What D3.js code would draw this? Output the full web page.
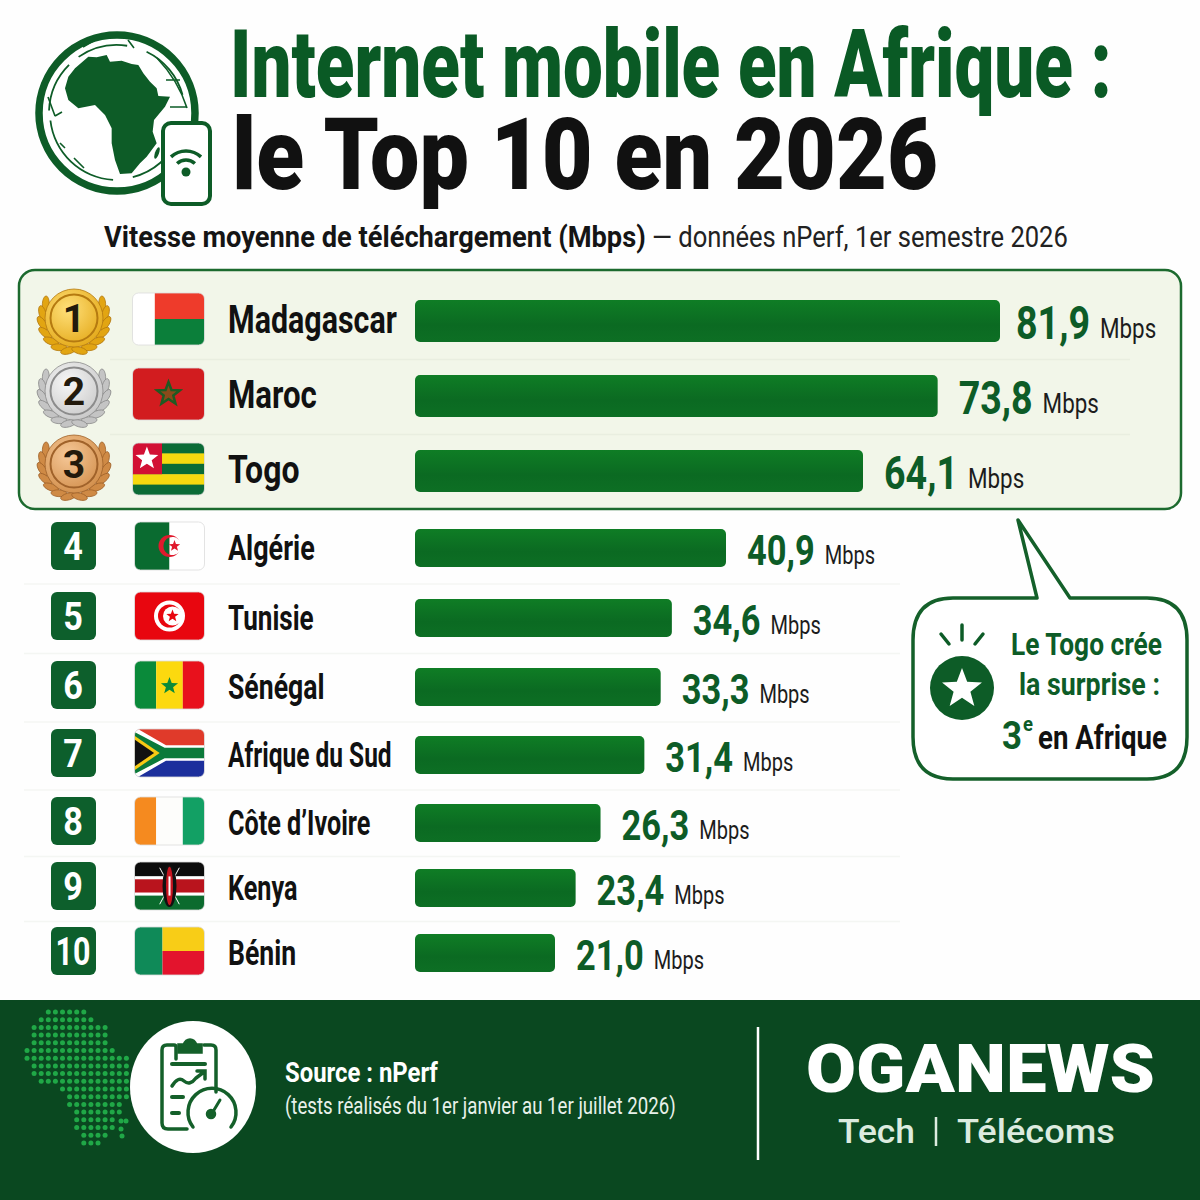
<!DOCTYPE html>
<html>
<head>
<meta charset="utf-8">
<title>Internet mobile en Afrique</title>
<script src="https://cdn.jsdelivr.net/npm/d3@7"></script>
<style>
  html, body { margin: 0; padding: 0; background: #fefefe; }
  svg { display: block; }
  text { font-family: Roboto, "Noto Sans", sans-serif; }
</style>
</head>
<body>
<div id="chart"></div>
<script>
const countries = ["Madagascar", "Maroc", "Togo", "Algérie", "Tunisie", "Sénégal", "Afrique du Sud", "Côte d’Ivoire", "Kenya", "Bénin"];
const speeds = [81.9, 73.8, 64.1, 40.9, 34.6, 33.3, 31.4, 26.3, 23.4, 21.0];
const flagCodes = ["mg", "ma", "tg", "dz", "tn", "sn", "za", "ci", "ke", "bj"];
const ranks = [1, 2, 3, 4, 5, 6, 7, 8, 9, 10];
const unit = "Mbps";

const GREEN = "#0d5c27";
const svg = d3.select("#chart").append("svg").attr("width", 1200).attr("height", 1200);
const defs = svg.append("defs");

svg.append("rect").attr("width", 1200).attr("height", 1200).attr("fill", "#fefefe");

// the bars in the picture are not strictly proportional to their labels,
// so the scale has a few knots
const x = d3.scaleLinear().domain([0, 21, 40.9, 64.1, 81.9]).range([415, 555, 726, 863, 1000]);
// rows get tighter going down
const y = d3.scaleLinear().domain([1, 3, 4, 5, 6, 7, 8, 9, 10]).range([321, 471, 548, 618, 687, 755, 823, 888, 953]);

const barGrad = defs.append("linearGradient").attr("id", "barGrad").attr("x1", 0).attr("x2", 0).attr("y1", 0).attr("y2", 1);
barGrad.append("stop").attr("offset", 0).attr("stop-color", "#0f7d25");
barGrad.append("stop").attr("offset", 0.6).attr("stop-color", "#0b6a22");
barGrad.append("stop").attr("offset", 1).attr("stop-color", "#0d6f24");

// no condensed font is available: scale each text to the width it has in the picture
function fit(sel) {
  sel.attr("transform", function(d) {
    const k = d.width ? d.width / this.getComputedTextLength() : 1;
    return `translate(${d.x},${d.y}) scale(${k},1)`;
  });
}

function starPoints(cx, cy, r) {
  const pts = [];
  for (let i = 0; i < 10; i++) {
    const a = -Math.PI / 2 + i * Math.PI / 5;
    const rr = i % 2 ? r * 0.42 : r;
    pts.push([cx + rr * Math.cos(a), cy + rr * Math.sin(a)].join(","));
  }
  return pts.join(" ");
}

/* ---------- header ---------- */
const africa = [[265,170],[290,172],[320,165],[330,185],[365,182],[395,192],[415,195],[430,220],[450,245],[470,265],[475,288],[510,290],[495,320],[462,360],[458,395],[470,430],[440,470],[420,490],[395,520],[360,522],[345,480],[335,430],[335,385],[315,345],[285,315],[235,325],[205,300],[195,265],[205,230],[225,205]];

const logo = svg.append("g");
logo.append("circle").attr("cx", 117).attr("cy", 113).attr("r", 78).attr("fill", "#fff").attr("stroke", GREEN).attr("stroke-width", 7.5);
const arc = d3.arc();
[[-0.6, 0.15, 68], [0.45, 1.3, 68], [1.95, 2.9, 66], [3.2, 4.6, 67], [4.75, 5.5, 68]].forEach(a => {
  logo.append("path").attr("transform", "translate(117,113)")
    .attr("d", arc({ innerRadius: a[2] - 0.9, outerRadius: a[2] + 0.9, startAngle: a[0], endAngle: a[1] }))
    .attr("fill", GREEN);
});
logo.append("path")
  .attr("d", "M157,58 Q178,80 187,108 M166,80 H180 M170,107 H186 M48,97 L55,116 M55,116 L62,112 M60,143 L65,148 M74,158 L84,168 M83,47 L95,40 M128,40 L134,48")
  .attr("fill", "none").attr("stroke", GREEN).attr("stroke-width", 1.6);
logo.append("path").attr("d", d3.line().x(d => d[0] / 3).y(d => d[1] / 3).curve(d3.curveLinearClosed)(africa)).attr("fill", GREEN);
logo.append("ellipse").attr("cx", 157).attr("cy", 153).attr("rx", 2).attr("ry", 6).attr("transform", "rotate(20 157 153)").attr("fill", GREEN);
logo.append("rect").attr("x", 163).attr("y", 123).attr("width", 47).attr("height", 81).attr("rx", 8).attr("fill", "#fff").attr("stroke", GREEN).attr("stroke-width", 4);
[[22, 3.5], [13, 3.5]].forEach(a => {
  logo.append("path").attr("transform", "translate(186,173)")
    .attr("d", arc({ innerRadius: a[0] - a[1] / 2, outerRadius: a[0] + a[1] / 2, startAngle: -0.75, endAngle: 0.75 }))
    .attr("fill", GREEN);
});
logo.append("circle").attr("cx", 186).attr("cy", 172).attr("r", 4.5).attr("fill", GREEN);

const titleLines = [
  { text: "Internet mobile en Afrique :", x: 230, y: 97, size: 94, width: 882, color: "#0a5a25" },
  { text: "le Top 10 en 2026", x: 232, y: 189, size: 100, width: 706, color: "#111" }
];
svg.selectAll(".title").data(titleLines).join("text").attr("class", "title")
  .attr("font-size", d => d.size).attr("font-weight", 900).attr("fill", d => d.color)
  .text(d => d.text).call(fit);

const subs = [
  { text: "Vitesse moyenne de téléchargement (Mbps)", x: 104, y: 247, width: 542, weight: 700, color: "#151515" },
  { text: "— données nPerf, 1er semestre 2026", x: 652, y: 247, width: 416, weight: 400, color: "#222" }
];
svg.selectAll(".sub").data(subs).join("text").attr("class", "sub")
  .attr("font-size", 29).attr("font-weight", d => d.weight).attr("fill", d => d.color)
  .text(d => d.text).call(fit);

/* ---------- top 3 box ---------- */
svg.append("rect").attr("x", 19).attr("y", 270).attr("width", 1162).attr("height", 239).attr("rx", 16)
  .attr("fill", "#f2f6e9").attr("stroke", "#1c6a2e").attr("stroke-width", 2.5);

const rows = ranks.map((r, i) => ({ rank: r, country: countries[i], speed: speeds[i], flag: flagCodes[i] }));

// faint separators under each row except the last of each group
svg.selectAll(".sep").data(rows.filter(d => d.rank !== 3 && d.rank !== 10)).join("line").attr("class", "sep")
  .attr("x1", d => d.rank < 3 ? 110 : 24).attr("x2", d => d.rank < 3 ? 1130 : 900)
  .attr("y1", d => (y(d.rank) + y(d.rank + 1)) / 2 + 1).attr("y2", d => (y(d.rank) + y(d.rank + 1)) / 2 + 1)
  .attr("stroke", d => d.rank < 3 ? "#e9eee0" : "#f4f6f3").attr("stroke-width", 1.5);

/* ---------- bars ---------- */
svg.selectAll(".bar").data(rows).join("rect").attr("class", "bar")
  .attr("x", x(0)).attr("width", d => x(d.speed) - x(0))
  .attr("y", d => y(d.rank) - (d.rank <= 3 ? 21 : 19)).attr("height", d => d.rank <= 3 ? 42 : 38)
  .attr("rx", 5).attr("fill", "url(#barGrad)");

// value labels
const fmt = v => d3.format(".1f")(v).replace(".", ",");
const valueK = d => d.rank <= 3 ? 0.8 : 0.82;
const valueX = d => x(d.speed) + (d.rank === 1 ? 16 : 21);

const values = svg.selectAll(".value").data(rows).join("text").attr("class", "value")
  .attr("font-size", d => d.rank <= 3 ? 47 : 42).attr("font-weight", 700).attr("fill", GREEN)
  .text(d => fmt(d.speed))
  .attr("transform", d => `translate(${valueX(d)},${y(d.rank) + (d.rank <= 3 ? 18 : 17)}) scale(${valueK(d)},1)`);

const unitX = [];
values.each(function(d) { unitX[d.rank] = valueX(d) + this.getComputedTextLength() * valueK(d) + 10; });

svg.selectAll(".unit").data(rows).join("text").attr("class", "unit")
  .attr("font-size", d => d.rank <= 3 ? 28 : 26).attr("font-weight", 400).attr("fill", "#1c1c1c")
  .text(unit)
  .attr("transform", d => `translate(${unitX[d.rank]},${y(d.rank) + (d.rank <= 3 ? 17 : 16)}) scale(${d.rank <= 3 ? 0.8 : 0.77},1)`);

/* ---------- country names ---------- */
const nameSqueeze = [0.78, 0.80, 0.82, 0.77, 0.745, 0.76, 0.70, 0.72, 0.72, 0.76];
svg.selectAll(".name").data(rows).join("text").attr("class", "name")
  .attr("font-size", d => d.rank <= 3 ? 39 : 35).attr("font-weight", 700).attr("fill", "#111")
  .text(d => d.country)
  .attr("transform", (d, i) => `translate(228,${y(d.rank) + 12}) scale(${nameSqueeze[i]},1)`);

/* ---------- rank badges and medals ---------- */
const medalColors = { 1: ["#ffe07a", "#e2a512", "#b57a10"], 2: ["#f7f7f7", "#c4c4c4", "#8c8c8c"], 3: ["#f6c898", "#cf8a45", "#a0622a"] };
Object.keys(medalColors).forEach(k => {
  const g = defs.append("radialGradient").attr("id", "medal" + k).attr("cx", "40%").attr("cy", "35%").attr("r", "75%");
  g.append("stop").attr("offset", 0).attr("stop-color", medalColors[k][0]);
  g.append("stop").attr("offset", 1).attr("stop-color", medalColors[k][1]);
});

const medalCy = d3.scaleLinear().domain([1, 3]).range([318, 464]);
rows.filter(d => d.rank <= 3).forEach(d => {
  const g = svg.append("g").attr("transform", `translate(74,${medalCy(d.rank)})`);
  const c = medalColors[d.rank];
  [-1, 1].forEach(side => {
    for (let i = 0; i < 7; i++) {
      const deg = -28 + i * 18;
      const a = deg * Math.PI / 180;
      const lx = side * 32 * Math.cos(a), ly = 32 * Math.sin(a) + 1;
      g.append("ellipse").attr("cx", lx).attr("cy", ly).attr("rx", 8).attr("ry", 3.4)
        .attr("transform", `rotate(${side * (deg + 115)} ${lx} ${ly})`)
        .attr("fill", c[1]).attr("stroke", c[2]).attr("stroke-width", 0.8);
    }
  });
  g.append("circle").attr("r", 29).attr("fill", `url(#medal${d.rank})`).attr("stroke", c[2]).attr("stroke-width", 0.8);
  g.append("circle").attr("r", 23.5).attr("fill", "none").attr("stroke", c[2]).attr("stroke-width", 2);
  g.append("text").attr("text-anchor", "middle").attr("y", 14).attr("font-size", 39).attr("font-weight", 700).attr("fill", "#231a0c").text(d.rank);
});

const others = rows.filter(d => d.rank > 3);
svg.selectAll(".badge").data(others).join("rect").attr("class", "badge")
  .attr("x", 51).attr("width", 45).attr("y", d => y(d.rank) - 26).attr("height", 48).attr("rx", 6).attr("fill", "#0d5f2c");
svg.selectAll(".badgeText").data(others).join("text").attr("class", "badgeText")
  .attr("font-size", 38).attr("font-weight", 700).attr("fill", "#fff").attr("text-anchor", "middle")
  .text(d => d.rank)
  .attr("transform", d => `translate(73,${y(d.rank) + 12}) scale(${d.rank === 10 ? 0.8 : 0.9},1)`);

/* ---------- flags ---------- */
function band(g, x0, y0, w, h, c) {
  g.append("rect").attr("x", x0).attr("y", y0).attr("width", w).attr("height", h).attr("fill", c);
}
const flagDraw = {
  mg(g, w, h) { band(g, 0, 0, w * 0.31, h, "#fff"); band(g, w * 0.31, 0, w * 0.69, h / 2, "#ee3b2b"); band(g, w * 0.31, h / 2, w * 0.69, h / 2, "#0b7f3a"); },
  ma(g, w, h) {
    band(g, 0, 0, w, h, "#d21c1f");
    g.append("polygon").attr("points", starPoints(w / 2, h / 2, 12)).attr("fill", "#8a4a1a").attr("stroke", "#1f5a22").attr("stroke-width", 2.5);
  },
  tg(g, w, h) {
    const s = h / 5;
    ["#0b6b36", "#f6d90f", "#0b6b36", "#f6d90f", "#0b6b36"].forEach((c, i) => band(g, 0, i * s, w, s + 0.5, c));
    band(g, 0, 0, w * 0.41, s * 3, "#d21034");
    g.append("polygon").attr("points", starPoints(w * 0.2, s * 1.5, 12)).attr("fill", "#fff");
  },
  dz(g, w, h) {
    const cx = w / 2, cy = h / 2;
    band(g, 0, 0, cx, h, "#0a6b30"); band(g, cx, 0, cx, h, "#fff");
    g.append("circle").attr("cx", cx).attr("cy", cy).attr("r", 11).attr("fill", "#e01a2d");
    // inner circle of the crescent, straddling the two colours
    g.append("path").attr("d", `M${cx},${cy - 8.5} A9,9 0 0 0 ${cx},${cy + 8.5} Z`).attr("fill", "#0a6b30");
    g.append("path").attr("d", `M${cx},${cy - 8.5} A9,9 0 1 1 ${cx},${cy + 8.5} Z`).attr("fill", "#fff");
    g.append("polygon").attr("points", starPoints(cx + 5, cy, 6)).attr("fill", "#e01a2d");
  },
  tn(g, w, h) {
    band(g, 0, 0, w, h, "#e8060f");
    g.append("circle").attr("cx", w / 2).attr("cy", h / 2).attr("r", 15.5).attr("fill", "#fff");
    g.append("circle").attr("cx", w / 2).attr("cy", h / 2).attr("r", 11.5).attr("fill", "#e8060f");
    g.append("circle").attr("cx", w / 2 + 3).attr("cy", h / 2).attr("r", 9.5).attr("fill", "#fff");
    g.append("polygon").attr("points", starPoints(w / 2 + 3, h / 2, 6.5)).attr("fill", "#e8060f");
  },
  sn(g, w, h) {
    band(g, 0, 0, w * 0.31, h, "#0a8a3a"); band(g, w * 0.31, 0, w * 0.38, h, "#fcd90f"); band(g, w * 0.69, 0, w * 0.31, h, "#e8111c");
    g.append("polygon").attr("points", starPoints(w / 2, h / 2 + 1, 9)).attr("fill", "#0a8a3a");
  },
  za(g, w, h) {
    band(g, 0, 0, w, h / 2, "#e03a2a"); band(g, 0, h / 2, w, h / 2, "#1c2f9c");
    g.append("path").attr("d", `M0,0 L${w * 0.47},${h / 2} L0,${h} Z`).attr("fill", "#fff");
    g.append("path").attr("d", `M0,${-2} L${w * 0.45},${h * 0.34} H${w} V${h * 0.66} H${w * 0.45} L0,${h + 2} Z`).attr("fill", "#fff");
    g.append("path").attr("d", `M0,${3} L${w * 0.43},${h * 0.39} H${w} V${h * 0.61} H${w * 0.43} L0,${h - 3} Z`).attr("fill", "#0b7a3a");
    g.append("path").attr("d", `M0,${h * 0.14} L${w * 0.36},${h / 2} L0,${h * 0.86} Z`).attr("fill", "#f7c914");
    g.append("path").attr("d", `M0,${h * 0.22} L${w * 0.28},${h / 2} L0,${h * 0.78} Z`).attr("fill", "#111");
  },
  ci(g, w, h) { band(g, 0, 0, w * 0.31, h, "#f58a1f"); band(g, w * 0.31, 0, w * 0.38, h, "#fdfdfb"); band(g, w * 0.69, 0, w * 0.31, h, "#12a064"); },
  ke(g, w, h) {
    band(g, 0, 0, w, h * 0.3, "#0c0c0c"); band(g, 0, h * 0.3, w, h * 0.06, "#fff");
    band(g, 0, h * 0.36, w, h * 0.28, "#b9141d"); band(g, 0, h * 0.64, w, h * 0.06, "#fff"); band(g, 0, h * 0.7, w, h * 0.3, "#0b6b2e");
    g.append("path").attr("d", `M${w * 0.36},${h * 0.12} L${w * 0.64},${h * 0.88} M${w * 0.64},${h * 0.12} L${w * 0.36},${h * 0.88}`).attr("stroke", "#fff").attr("stroke-width", 1);
    g.append("ellipse").attr("cx", w / 2).attr("cy", h / 2).attr("rx", 7).attr("ry", h * 0.44).attr("fill", "#111");
    g.append("ellipse").attr("cx", w / 2).attr("cy", h / 2).attr("rx", 3.5).attr("ry", h * 0.4).attr("fill", "#c8141f");
    g.append("rect").attr("x", w / 2 - 1).attr("y", h * 0.3).attr("width", 2).attr("height", h * 0.4).attr("fill", "#fff");
  },
  bj(g, w, h) { band(g, 0, 0, w * 0.4, h, "#0f8a58"); band(g, w * 0.4, 0, w * 0.6, h / 2, "#f8cd17"); band(g, w * 0.4, h / 2, w * 0.6, h / 2, "#e3142d"); }
};

const flagW = d => d.rank <= 3 ? 72 : 70;
const flagH = d => d.rank <= 3 ? 52 : 48;
const flags = svg.selectAll(".flag").data(rows).join("g").attr("class", "flag")
  .attr("transform", d => `translate(${d.rank <= 3 ? 132.5 : 134.5},${y(d.rank) - 2 - flagH(d) / 2})`);
flags.each(function(d) {
  const g = d3.select(this);
  const id = "clip-" + d.flag;
  defs.append("clipPath").attr("id", id).append("rect").attr("width", flagW(d)).attr("height", flagH(d)).attr("rx", 6);
  const inner = g.append("g").attr("clip-path", `url(#${id})`);
  flagDraw[d.flag](inner, flagW(d), flagH(d));
  g.append("rect").attr("width", flagW(d)).attr("height", flagH(d)).attr("rx", 6).attr("fill", "none").attr("stroke", "#dcdcdc").attr("stroke-width", 0.8);
});

/* ---------- callout ---------- */
const callout = svg.append("g");
callout.append("path")
  .attr("d", "M1037,598 H953 Q913,598 913,640 V737 Q913,779 953,779 H1147 Q1187,779 1187,737 V640 Q1187,598 1147,598 H1070 L1018,520 Z")
  .attr("fill", "#fff").attr("stroke", "#14602a").attr("stroke-width", 3.5).attr("stroke-linejoin", "round");
callout.append("circle").attr("cx", 962).attr("cy", 688).attr("r", 32).attr("fill", GREEN);
callout.append("polygon").attr("points", starPoints(962, 689, 21)).attr("fill", "#fff");
[[941, 634, 949, 644], [962, 625, 962, 640], [983, 634, 975, 644]].forEach(l => {
  callout.append("line").attr("x1", l[0]).attr("y1", l[1]).attr("x2", l[2]).attr("y2", l[3])
    .attr("stroke", GREEN).attr("stroke-width", 3.5).attr("stroke-linecap", "round");
});
const calloutText = [
  { text: "Le Togo crée", x: 1011, y: 655, width: 151, size: 32, color: GREEN },
  { text: "la surprise :", x: 1019, y: 695, width: 141, size: 32, color: GREEN },
  { text: "3", x: 1002, y: 749, width: 20, size: 38, color: GREEN },
  { text: "e", x: 1023, y: 731, width: 10, size: 20, color: GREEN },
  { text: "en Afrique", x: 1038, y: 749, width: 129, size: 34, color: "#111" }
];
callout.selectAll(".ct").data(calloutText).join("text").attr("class", "ct")
  .attr("font-size", d => d.size).attr("font-weight", 700).attr("fill", d => d.color)
  .text(d => d.text).call(fit);

/* ---------- footer ---------- */
svg.append("rect").attr("y", 1000).attr("width", 1200).attr("height", 200).attr("fill", "#0a4820");

// dotted africa behind the round icon
const footAfrica = [[48,1008],[82,1008],[105,1025],[115,1050],[132,1060],[132,1090],[122,1115],[100,1146],[82,1146],[72,1115],[62,1090],[35,1082],[26,1060],[28,1035]];
const dots = [];
d3.range(27, 132, 7.1).forEach(dx => d3.range(1012, 1146, 7.7).forEach(dy => {
  if (d3.polygonContains(footAfrica, [dx, dy])) dots.push([dx, dy]);
}));
dots.push([121, 1121], [126, 1121], [121, 1129], [122, 1136]);
svg.selectAll(".dot").data(dots).join("circle").attr("class", "dot")
  .attr("cx", d => d[0]).attr("cy", d => d[1]).attr("r", 2.5).attr("fill", "#20a847");

svg.append("ellipse").attr("cx", 193).attr("cy", 1087).attr("rx", 63).attr("ry", 66).attr("fill", "#fff");

// clipboard + gauge icon
const icon = svg.append("g").attr("fill", "none").attr("stroke", "#14602a").attr("stroke-width", 3.5).attr("stroke-linecap", "round");
icon.append("path").attr("d", "M176,1059 V1047 Q176,1045 174,1045 H167 Q162,1045 162,1050 V1123 Q162,1129 168,1129 H187");
icon.append("path").attr("d", "M216,1092 V1050 Q216,1045 211,1045 H204");
icon.append("path").attr("d", "M179,1052 H201 V1045 H196 Q194,1040 190,1040 Q186,1040 184,1045 H179 Z").attr("fill", "#14602a");
icon.append("path").attr("d", "M172,1064 H205").attr("stroke-width", 4);
icon.append("path").attr("d", "M172,1086 Q178,1076 184,1081 Q190,1086 196,1078 L204,1072 M197,1071 H205 V1079");
icon.append("path").attr("d", "M172,1097 H183").attr("stroke-width", 4);
icon.append("path").attr("d", "M172,1113 H179").attr("stroke-width", 4);
icon.append("path").attr("d", "M193,1127 A24,24 0 1 1 231,1127");
icon.append("path").attr("d", "M211,1115 L220,1100").attr("stroke-width", 3);
icon.append("circle").attr("cx", 211).attr("cy", 1114).attr("r", 3.5).attr("fill", "#14602a");

const footText = [
  { text: "Source : nPerf", x: 285, y: 1082, width: 153, size: 28, weight: 700, color: "#fff" },
  { text: "(tests réalisés du 1er janvier au 1er juillet 2026)", x: 285, y: 1114, width: 391, size: 24, weight: 400, color: "#e8f1ea" },
  { text: "OGANEWS", x: 806, y: 1092, width: 349, size: 66, weight: 900, color: "#fff" },
  { text: "Tech", x: 838, y: 1143, width: 77, size: 33, weight: 500, color: "#dcebdf" },
  { text: "Télécoms", x: 957, y: 1143, width: 158, size: 33, weight: 500, color: "#dcebdf" }
];
svg.selectAll(".ft").data(footText).join("text").attr("class", "ft")
  .attr("font-size", d => d.size).attr("font-weight", d => d.weight).attr("fill", d => d.color)
  .text(d => d.text).call(fit);
// the bar between Tech and Télécoms
svg.append("line").attr("x1", 936).attr("x2", 936).attr("y1", 1117).attr("y2", 1146).attr("stroke", "#dcebdf").attr("stroke-width", 2.5);

svg.append("line").attr("x1", 758).attr("x2", 758).attr("y1", 1027).attr("y2", 1160).attr("stroke", "#fff").attr("stroke-width", 2.5);
</script>
</body>
</html>
